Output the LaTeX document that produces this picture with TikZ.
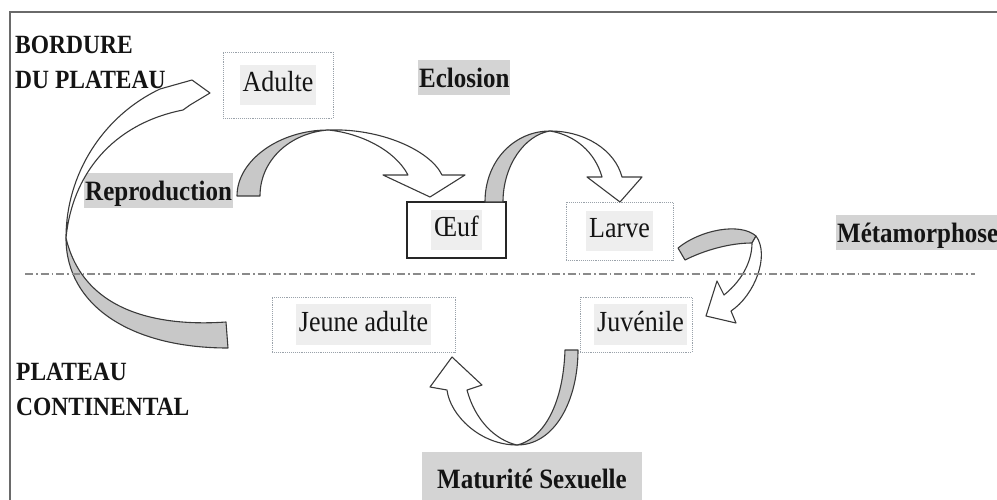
\documentclass[tikz,border=0pt]{standalone}
\usepackage{fontspec}
\setmainfont{Liberation Serif}
\definecolor{edgec}{HTML}{3A3A3A}
\definecolor{bandc}{HTML}{C8C8C8}
\definecolor{hlc}{HTML}{D4D4D4}
\definecolor{boxhlc}{HTML}{EEEEEE}
\definecolor{boxc}{HTML}{9AA2AA}
\definecolor{framec}{HTML}{6A6A6A}
\definecolor{dashc}{HTML}{8A8A8A}
\definecolor{txtc}{HTML}{141414}
\newcommand{\vs}[1]{\scalebox{1}[1.12]{#1}}
\newcommand{\bhl}[1]{{\setlength{\fboxsep}{3pt}\colorbox{boxhlc}{\vs{\strut #1}}}}
\begin{document}
\begin{tikzpicture}[x=1pt,y=-1pt,
  every node/.style={text=txtc},
  zone/.style={font=\bfseries\fontsize{23.5}{35}\selectfont, anchor=base west, inner sep=0pt, align=left},
  lbl/.style={font=\bfseries\fontsize{25}{30}\selectfont, fill=hlc, inner xsep=1pt, inner ysep=0pt, text height=27pt, text depth=8pt, anchor=base west},
  lbox/.style={draw=boxc, densely dotted, line width=0.9pt, inner sep=0pt, font=\fontsize{26}{31}\selectfont},
  sbox/.style={draw=black!85, line width=1.3pt, inner sep=0pt, font=\fontsize{26}{31}\selectfont},
  band/.style={draw=edgec, line width=1.1pt, line join=round},
  outerframe/.style={draw=framec, line width=1.6pt},
  shoreline/.style={draw=dashc, line width=1.2pt, dash pattern=on 8pt off 3pt on 1.5pt off 3pt}
]
\useasboundingbox (0,0) rectangle (997,499);
\clip (0,0) rectangle (997,499);
\draw[outerframe] (10,12) rectangle (1020,520);

% zone labels (base anchor = baseline of last line)
\node[zone] (bordure) at (15,88) {\vs{BORDURE}\\\vs{DU PLATEAU}};
\node[zone] (plateau) at (16,415) {\vs{PLATEAU}\\\vs{CONTINENTAL}};

% stage boxes
\node[lbox, minimum width=110pt, minimum height=66pt] (adulte) at (278,85) {\bhl{Adulte}};
\node[sbox, minimum width=99pt, minimum height=56pt] (oeuf) at (456.5,230) {\bhl{Œuf}\hspace{26pt}};
\node[lbox, minimum width=107pt, minimum height=58pt] (larve) at (619.5,231) {\bhl{Larve}\hspace{15pt}};
\node[lbox, minimum width=183pt, minimum height=55pt] (jeune) at (363.5,324.5) {\bhl{Jeune adulte}\hspace{20pt}};
\node[lbox, minimum width=112pt, minimum height=55pt] (juvenile) at (636,324.5) {\hspace{9pt}\bhl{Juvénile}};

% process labels
\node[lbl] (eclosion) at (418,87) {\vs{Eclosion}};
\node[lbl] (repro) at (84,200) {\vs{Reproduction}};
\node[lbl] (meta) at (836,242) {\vs{Métamorphose}};
\node[lbl, inner xsep=15pt, text height=36pt, text depth=14pt] (matur) at (422,488) {\vs{Maturité Sexuelle}};

% arrow 1 : Juvenile adult side -> Adulte
\draw[band, fill=white] (160,89) -- (192,80) -- (210,93) -- (190,105) -- (183,110)
  .. controls (112,124) and (72,175) .. (66,238)
  .. controls (66,174) and (103,116) .. (160,89) -- cycle;
\draw[band, fill=bandc] (66,238) .. controls (66,305) and (130,348) .. (228,348)
  -- (226,322) .. controls (170,326) and (85,318) .. (66,238) -- cycle;

% arrow 2 : Reproduction -> Oeuf
\draw[band, fill=bandc] (237,196) .. controls (237,160) and (280,130) .. (328,130)
  .. controls (290,133) and (260,160) .. (260,196) -- cycle;
\draw[band, fill=white] (328,130) .. controls (380,128) and (430,150) .. (442,175)
  -- (465,175) -- (430,197) -- (383,175) -- (408,175)
  .. controls (395,150) and (360,133) .. (328,130) -- cycle;

% arrow 3 : Oeuf -> Larve
\draw[band, fill=bandc] (485,202) .. controls (485,160) and (515,131) .. (550,131)
  .. controls (525,135) and (503,165) .. (503,202) -- cycle;
\draw[band, fill=white] (550,131) .. controls (585,131) and (615,150) .. (622,177)
  -- (642,177) -- (620,202) -- (587,177) -- (602,177)
  .. controls (595,152) and (575,135) .. (550,131) -- cycle;

% arrow 4 : Larve -> Juvenile
\draw[band, fill=bandc] (678,248) .. controls (700,230) and (740,222) .. (756,236)
  -- (752,243) .. controls (730,243) and (705,250) .. (685,260) -- cycle;
\draw[band, fill=white] (756,236) .. controls (770,255) and (755,295) .. (731,311)
  -- (736,323) -- (706,316) -- (717,281) -- (724,295)
  .. controls (745,278) and (752,258) .. (752,243) -- cycle;

% arrow 5 : Juvenile -> Jeune adulte
\draw[band, fill=bandc] (565,350) -- (578,350) .. controls (578,400) and (555,445) .. (517,445)
  .. controls (540,440) and (563,410) .. (565,350) -- cycle;
\draw[band, fill=white] (517,445) .. controls (480,445) and (450,415) .. (447,390)
  -- (430,387) -- (452,357) -- (482,385) -- (467,390)
  .. controls (475,420) and (495,440) .. (517,445) -- cycle;

% shore line
\coordinate (shoreW) at (25,274);
\coordinate (shoreE) at (975,274);
\draw[shoreline] (shoreW) -- (shoreE);
\end{tikzpicture}
\end{document}
